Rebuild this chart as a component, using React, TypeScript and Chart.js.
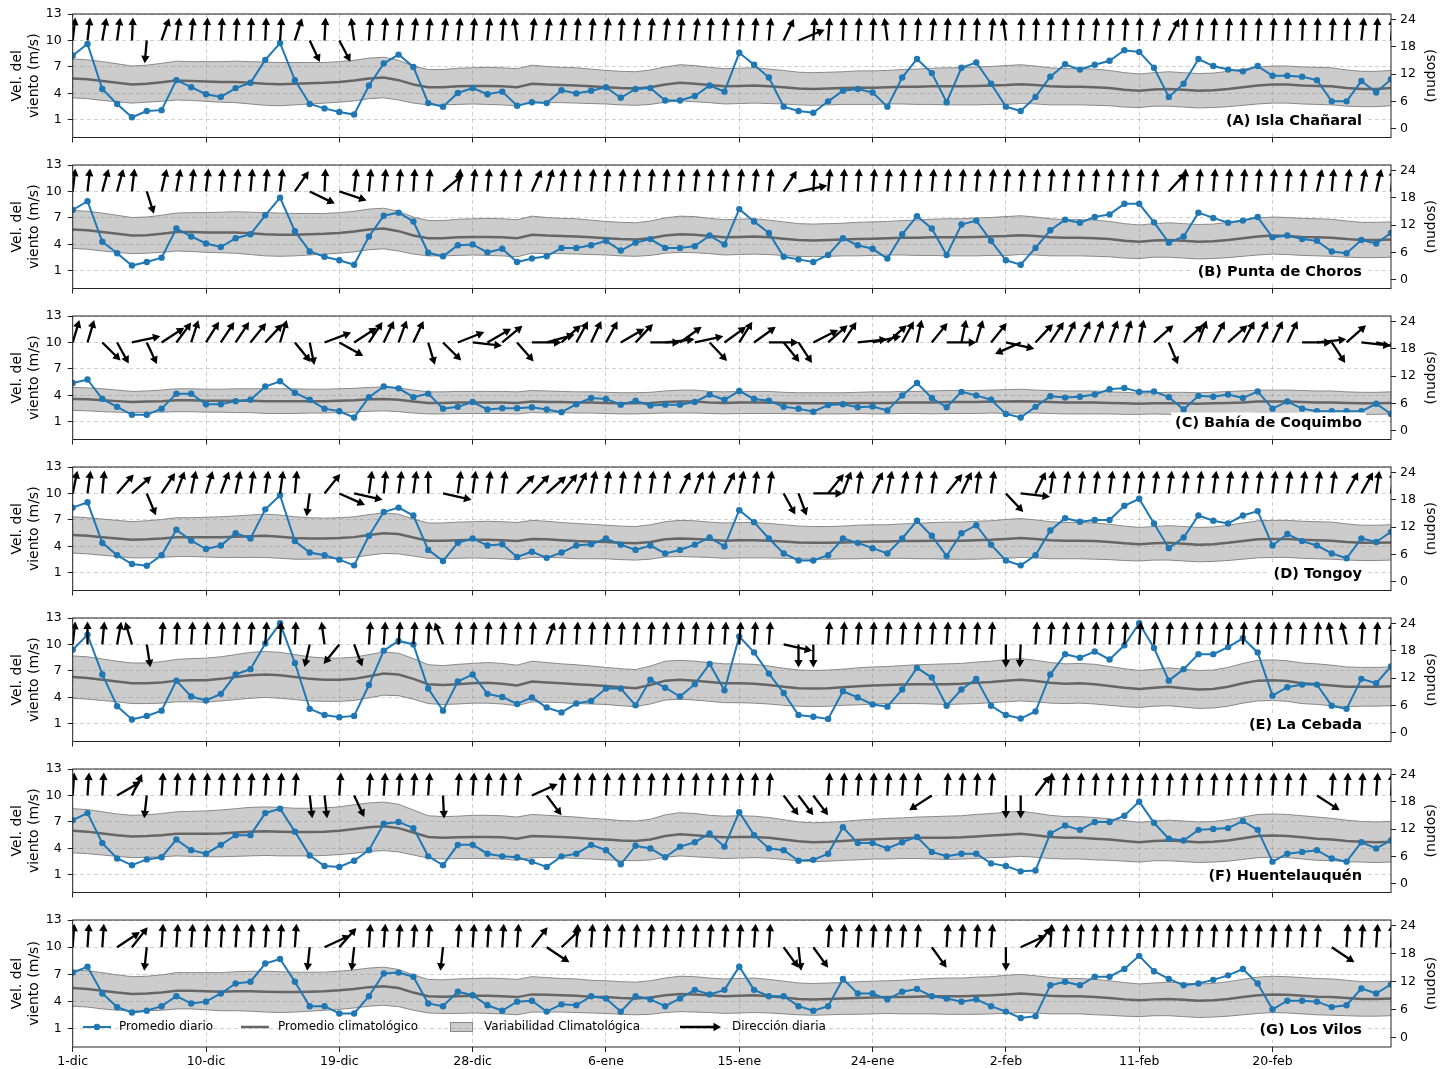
import React, { useEffect, useRef } from "react";
import { Chart, registerables } from "chart.js";

Chart.register(...registerables);

const FONT = "'DejaVu Sans', 'Liberation Sans', Arial, sans-serif";

// ---------------- axis / label data ----------------
const tickDays = [0, 9, 18, 27, 36, 45, 54, 63, 72, 81];
const tickLabels = ["1-dic", "10-dic", "19-dic", "28-dic", "6-ene", "15-ene", "24-ene", "2-feb", "11-feb", "20-feb"];
const leftTicks = [1, 4, 7, 10, 13];
const knotTicks = [0, 6, 12, 18, 24];
const MS_TO_KNOTS = 1.94384;
const Y_MIN = -1;
const Y_MAX = 13;
const X_MAX = 89;
const ARROW_BASE = 10;
const ARROW_LEN_X = 2.0;
const ARROW_LEN_Y = 2.6;

const stationLabels = [
  "(A) Isla Chañaral",
  "(B) Punta de Choros",
  "(C) Bahía de Coquimbo",
  "(D) Tongoy",
  "(E) La Cebada",
  "(F) Huentelauquén",
  "(G) Los Vilos",
];
const legendLabels = ["Promedio diario", "Promedio climatológico", "Variabilidad Climatológica", "Dirección diaria"];
const leftTitle = ["Vel. del", "viento (m/s)"];
const rightTitle = "(nudos)";

// ---------------- series data (1-dic .. 28-feb) ----------------
// (A) Isla Chañaral
const dailyA = [
  8.3, 9.6, 4.5, 2.8, 1.3, 2.0, 2.1, 5.5, 4.7, 3.9,
  3.6, 4.6, 5.2, 7.8, 9.7, 5.5, 2.8, 2.3, 1.9, 1.6,
  4.9, 7.4, 8.4, 7.0, 2.9, 2.5, 4.05, 4.6, 3.9, 4.2,
  2.6, 3.0, 2.9, 4.35, 4.0, 4.3, 4.7, 3.5, 4.5, 4.6,
  3.2, 3.2, 3.7, 4.9, 4.2, 8.6, 7.25, 5.8, 2.5, 2.0,
  1.8, 3.1, 4.3, 4.5, 4.1, 2.5, 5.8, 7.9, 6.3, 3.0,
  6.9, 7.5, 5.1, 2.5, 2.0, 3.6, 5.9, 7.3, 6.7, 7.25,
  7.7, 8.9, 8.7, 6.9, 3.6, 5.1, 7.9, 7.1, 6.7, 6.5,
  7.1, 6.0, 6.0, 5.9, 5.5, 3.1, 3.1, 5.4, 4.1, 5.6,
];
const climA = [
  5.7, 5.6, 5.4, 5.2, 5.0, 5.1, 5.25, 5.45, 5.4, 5.35,
  5.3, 5.3, 5.2, 5.1, 5.05, 5.1, 5.15, 5.2, 5.3, 5.45,
  5.7, 5.8, 5.5, 5.0, 4.7, 4.7, 4.8, 4.85, 4.85, 4.8,
  4.7, 5.1, 5.0, 4.95, 4.9, 4.8, 4.7, 4.6, 4.55, 4.7,
  5.0, 5.2, 5.1, 4.95, 4.8, 4.85, 4.9, 4.8, 4.7, 4.55,
  4.5, 4.55, 4.6, 4.65, 4.65, 4.7, 4.75, 4.75, 4.8, 4.8,
  4.8, 4.85, 4.9, 4.95, 5.05, 4.95, 4.8, 4.75, 4.75, 4.7,
  4.6, 4.4, 4.3, 4.45, 4.5, 4.4, 4.3, 4.35, 4.5, 4.7,
  4.9, 5.0, 5.0, 4.9, 4.85, 4.8, 4.6, 4.5, 4.5, 4.6,
];
const sdA = [
  2.2, 2.2, 2.2, 2.15, 2.1, 2.1, 2.15, 2.2, 2.2, 2.25,
  2.3, 2.35, 2.4, 2.45, 2.45, 2.4, 2.35, 2.3, 2.3, 2.3,
  2.3, 2.3, 2.25, 2.1, 2.0, 2.0, 2.05, 2.05, 2.1, 2.1,
  2.1, 2.1, 2.05, 2.0, 2.0, 1.95, 1.9, 1.9, 1.9, 1.95,
  2.0, 2.05, 2.05, 2.0, 2.0, 2.0, 2.0, 1.95, 1.9, 1.85,
  1.85, 1.85, 1.85, 1.9, 1.9, 1.9, 1.95, 2.0, 2.05, 2.1,
  2.1, 2.15, 2.15, 2.2, 2.2, 2.15, 2.1, 2.05, 2.05, 2.05,
  2.0, 1.95, 1.9, 1.9, 1.95, 1.95, 1.95, 1.95, 2.0, 2.05,
  2.1, 2.1, 2.1, 2.1, 2.1, 2.1, 2.05, 2.0, 2.0, 2.0,
];
const dirA = [
  5, 5, 8, 6, 2, 184, 15, 6, 4, 3,
  3, 3, 2, 2, 3, 14, 160, 2, 158, 354,
  3, 4, 4, 5, 4, 6, 5, 4, 5, 3,
  354, 5, 6, 5, 4, 4, 5, 3, 4, 4,
  5, 4, 6, 3, 4, 4, 4, 4, 20, 62,
  3, 3, 2, 3, 2, 354, 2, 3, 4, 3,
  3, 2, 4, 354, 2, 2, 2, 2, 3, 4,
  3, 3, 2, 8, 20, 3, 4, 3, 3, 2,
  3, 3, 2, 2, 2, 3, 2, 5, 3, 4,
];

// (B) Punta de Choros
const dailyB = [
  7.9, 8.9, 4.3, 3.0, 1.6, 2.0, 2.5, 5.8, 4.9, 4.1,
  3.7, 4.7, 5.15, 7.3, 9.3, 5.5, 3.2, 2.6, 2.2, 1.7,
  4.9, 7.25, 7.6, 6.6, 3.05, 2.65, 3.9, 4.0, 3.1, 3.5,
  2.0, 2.4, 2.65, 3.6, 3.6, 3.9, 4.4, 3.3, 4.2, 4.6,
  3.6, 3.6, 3.8, 5.0, 4.0, 8.0, 6.6, 5.3, 2.6, 2.3,
  2.0, 2.8, 4.7, 3.9, 3.5, 2.4, 5.15, 7.2, 5.8, 2.8,
  6.25, 6.7, 4.4, 2.2, 1.7, 3.6, 5.6, 6.8, 6.45, 7.1,
  7.4, 8.6, 8.6, 6.5, 4.2, 4.9, 7.6, 7.0, 6.45, 6.7,
  7.1, 4.8, 5.0, 4.6, 4.4, 3.2, 3.0, 4.5, 4.1, 5.3,
];
const climB = [
  5.7, 5.6, 5.4, 5.2, 5.0, 5.05, 5.2, 5.4, 5.4, 5.35,
  5.35, 5.35, 5.25, 5.15, 5.1, 5.1, 5.15, 5.2, 5.3, 5.45,
  5.7, 5.8, 5.5, 5.0, 4.7, 4.7, 4.8, 4.85, 4.85, 4.8,
  4.7, 5.1, 5.0, 4.95, 4.9, 4.8, 4.7, 4.6, 4.55, 4.7,
  5.0, 5.15, 5.1, 4.95, 4.8, 4.85, 4.9, 4.8, 4.65, 4.5,
  4.45, 4.5, 4.55, 4.6, 4.65, 4.7, 4.75, 4.75, 4.8, 4.8,
  4.8, 4.85, 4.9, 4.95, 5.05, 4.95, 4.8, 4.75, 4.75, 4.7,
  4.6, 4.4, 4.3, 4.45, 4.5, 4.4, 4.3, 4.35, 4.5, 4.7,
  4.9, 5.0, 4.95, 4.85, 4.8, 4.75, 4.6, 4.5, 4.5, 4.55,
];
const sdB = [
  2.15, 2.15, 2.15, 2.1, 2.05, 2.05, 2.1, 2.15, 2.2, 2.25,
  2.3, 2.35, 2.4, 2.45, 2.45, 2.4, 2.35, 2.3, 2.3, 2.3,
  2.3, 2.3, 2.25, 2.1, 2.0, 2.0, 2.05, 2.05, 2.1, 2.1,
  2.1, 2.1, 2.05, 2.0, 2.0, 1.95, 1.9, 1.9, 1.9, 1.95,
  2.0, 2.05, 2.05, 2.0, 2.0, 2.0, 2.0, 1.95, 1.9, 1.85,
  1.85, 1.85, 1.85, 1.9, 1.9, 1.9, 1.95, 2.0, 2.05, 2.1,
  2.1, 2.15, 2.15, 2.2, 2.2, 2.15, 2.1, 2.05, 2.05, 2.05,
  2.0, 1.95, 1.9, 1.9, 1.95, 1.95, 1.95, 1.95, 2.0, 2.05,
  2.1, 2.1, 2.1, 2.1, 2.1, 2.1, 2.05, 2.0, 2.0, 2.0,
];
const dirB = [
  5, 5, 12, 12, 5, 166, 10, 8, 5, 5,
  4, 5, 4, 4, 5, 28, 122, 2, 113, 5,
  4, 4, 4, 3, 4, 43, 5, 5, 4, 4,
  4, 19, 12, 5, 4, 5, 4, 5, 4, 4,
  4, 4, 5, 4, 4, 5, 5, 5, 26, 75,
  3, 4, 3, 3, 4, 4, 3, 4, 4, 4,
  4, 4, 5, 4, 4, 4, 4, 4, 4, 4,
  4, 4, 4, 4, 35, 4, 4, 4, 4, 4,
  4, 4, 4, 4, 10, 4, 6, 8, 10, 5,
];

// (C) Bahía de Coquimbo
const dailyC = [
  5.4, 5.8, 3.6, 2.7, 1.8, 1.8, 2.5, 4.2, 4.2, 3.0,
  3.0, 3.35, 3.5, 5.0, 5.6, 4.3, 3.5, 2.5, 2.2, 1.5,
  3.8, 5.0, 4.8, 3.8, 4.2, 2.5, 2.7, 3.25, 2.4, 2.55,
  2.55, 2.65, 2.4, 2.1, 3.0, 3.7, 3.6, 2.95, 3.4, 2.85,
  2.95, 2.95, 3.25, 4.1, 3.5, 4.5, 3.6, 3.4, 2.7, 2.5,
  2.15, 2.9, 3.0, 2.65, 2.75, 2.3, 4.0, 5.4, 3.7, 2.65,
  4.4, 4.0, 3.5, 1.9, 1.5, 2.7, 3.9, 3.75, 3.85, 4.1,
  4.7, 4.85, 4.4, 4.45, 3.8, 2.4, 3.95, 3.85, 4.1, 3.7,
  4.45, 2.5, 3.3, 2.5, 2.2, 2.2, 2.2, 2.2, 3.05, 1.9,
];
const climC = [
  3.6, 3.55, 3.45, 3.35, 3.25, 3.3, 3.35, 3.45, 3.45, 3.4,
  3.4, 3.4, 3.4, 3.35, 3.35, 3.35, 3.35, 3.35, 3.4, 3.45,
  3.55, 3.6, 3.5, 3.3, 3.15, 3.15, 3.2, 3.2, 3.2, 3.2,
  3.15, 3.3, 3.25, 3.25, 3.2, 3.2, 3.15, 3.1, 3.1, 3.15,
  3.25, 3.3, 3.3, 3.2, 3.15, 3.2, 3.2, 3.2, 3.15, 3.1,
  3.1, 3.1, 3.1, 3.15, 3.15, 3.15, 3.2, 3.2, 3.2, 3.25,
  3.25, 3.25, 3.3, 3.3, 3.35, 3.3, 3.25, 3.2, 3.2, 3.2,
  3.15, 3.1, 3.05, 3.1, 3.1, 3.1, 3.05, 3.1, 3.15, 3.2,
  3.3, 3.3, 3.3, 3.25, 3.2, 3.2, 3.15, 3.1, 3.1, 3.15,
];
const sdC = [
  1.3, 1.3, 1.3, 1.25, 1.2, 1.2, 1.25, 1.3, 1.3, 1.3,
  1.3, 1.35, 1.35, 1.4, 1.4, 1.4, 1.35, 1.35, 1.35, 1.35,
  1.35, 1.35, 1.35, 1.3, 1.25, 1.25, 1.25, 1.25, 1.25, 1.25,
  1.25, 1.25, 1.25, 1.2, 1.2, 1.2, 1.2, 1.2, 1.2, 1.2,
  1.25, 1.3, 1.3, 1.25, 1.25, 1.25, 1.25, 1.25, 1.2, 1.2,
  1.2, 1.2, 1.2, 1.2, 1.25, 1.25, 1.25, 1.25, 1.3, 1.3,
  1.3, 1.3, 1.3, 1.35, 1.35, 1.3, 1.3, 1.3, 1.3, 1.3,
  1.25, 1.25, 1.2, 1.2, 1.25, 1.25, 1.25, 1.25, 1.3, 1.3,
  1.3, 1.3, 1.3, 1.3, 1.3, 1.3, 1.25, 1.25, 1.25, 1.25,
];
const dirC = [
  13, 13, 142, 157, 74, 160, 50, 30, 14, 26,
  27, 27, 32, 36, 13, 148, 171, 64, 126, 50,
  27, 20, 16, 20, 167, 142, 63, 98, 53, 43,
  146, 90, 70, 41, 23, 20, 23, 53, 36, 90,
  82, 47, 74, 144, 47, 26, 47, 90, 148, 153,
  57, 41, 27, 82, 74, 41, 23, 9, 32, 90,
  9, 13, 32, 106, 240, 36, 27, 20, 20, 16,
  16, 13, 9, 41, 162, 41, 16, 23, 41, 23,
  20, 20, 20, 90, 82, 153, 41, 98, 106, 160,
];

// (D) Tongoy
const dailyD = [
  8.4, 9.0, 4.4, 3.0, 2.0, 1.8, 3.0, 5.9, 4.65, 3.7,
  4.1, 5.5, 4.9, 8.2, 9.8, 4.6, 3.3, 3.0, 2.5, 1.85,
  5.2, 7.9, 8.4, 7.5, 3.6, 2.35, 4.4, 4.9, 4.1, 4.25,
  2.8, 3.4, 2.7, 3.3, 4.1, 4.25, 4.9, 4.2, 3.6, 4.1,
  3.2, 3.6, 4.2, 5.0, 4.0, 8.1, 6.75, 4.9, 3.2, 2.4,
  2.4, 3.0, 4.9, 4.4, 3.8, 3.2, 4.9, 6.9, 5.2, 2.9,
  5.5, 6.4, 4.2, 2.4, 1.85, 3.0, 5.8, 7.2, 6.8, 7.0,
  7.0, 8.6, 9.4, 6.6, 3.8, 5.0, 7.5, 6.9, 6.6, 7.5,
  8.0, 4.1, 5.4, 4.6, 4.1, 3.2, 2.65, 4.9, 4.5, 5.65,
];
const climD = [
  5.3, 5.2, 5.05, 4.9, 4.75, 4.8, 4.9, 5.05, 5.05, 5.05,
  5.05, 5.1, 5.15, 5.2, 5.1, 4.95, 4.9, 4.9, 4.95, 5.05,
  5.3, 5.5, 5.4, 5.0, 4.65, 4.65, 4.7, 4.75, 4.75, 4.7,
  4.6, 4.85, 4.8, 4.7, 4.6, 4.55, 4.5, 4.4, 4.35, 4.5,
  4.8, 4.9, 4.85, 4.75, 4.65, 4.7, 4.7, 4.65, 4.55, 4.45,
  4.4, 4.4, 4.45, 4.5, 4.55, 4.55, 4.6, 4.6, 4.65, 4.65,
  4.65, 4.7, 4.75, 4.85, 4.95, 4.85, 4.7, 4.65, 4.65, 4.6,
  4.5, 4.35, 4.25, 4.35, 4.4, 4.3, 4.2, 4.25, 4.4, 4.6,
  4.8, 4.85, 4.85, 4.75, 4.7, 4.65, 4.5, 4.4, 4.4, 4.45,
];
const sdD = [
  2.05, 2.05, 2.05, 2.05, 2.05, 2.1, 2.15, 2.2, 2.2, 2.25,
  2.3, 2.35, 2.4, 2.45, 2.45, 2.4, 2.35, 2.3, 2.3, 2.3,
  2.3, 2.3, 2.25, 2.1, 2.0, 2.0, 2.05, 2.05, 2.1, 2.1,
  2.1, 2.1, 2.05, 2.0, 2.0, 1.95, 1.9, 1.9, 1.9, 1.95,
  2.0, 2.05, 2.05, 2.0, 2.0, 2.0, 2.0, 1.95, 1.9, 1.85,
  1.85, 1.85, 1.85, 1.9, 1.9, 1.9, 1.95, 2.0, 2.05, 2.1,
  2.1, 2.15, 2.15, 2.2, 2.2, 2.15, 2.1, 2.05, 2.05, 2.05,
  2.0, 1.95, 1.9, 1.9, 1.95, 1.95, 1.95, 1.95, 2.0, 2.05,
  2.1, 2.1, 2.1, 2.1, 2.1, 2.1, 2.05, 2.0, 2.0, 2.0,
];
const dirD = [
  9, 6, 4, 34, 41, 162, 27, 16, 9, 13,
  16, 9, 6, 6, 6, 4, 186, 32, 120, 106,
  6, 4, 6, 6, 0, 106, 6, 6, 6, 6,
  36, 36, 41, 32, 20, 9, 6, 6, 6, 6,
  6, 20, 16, 6, 20, 9, 6, 6, 157, 164,
  90, 32, 16, 6, 20, 9, 9, 6, 6, 32,
  20, 6, 6, 144, 98, 20, 6, 6, 6, 6,
  6, 6, 6, 6, 6, 6, 6, 6, 6, 6,
  6, 6, 6, 6, 6, 6, 23, 23, 6, 6,
];

// (E) La Cebada
const dailyE = [
  9.4, 11.1, 6.6, 3.0, 1.5, 1.9, 2.5, 5.9, 4.1, 3.65,
  4.4, 6.6, 7.2, 10.1, 12.4, 7.9, 2.7, 2.0, 1.75, 1.9,
  5.4, 9.3, 10.4, 10.0, 5.0, 2.5, 5.8, 6.6, 4.4, 4.05,
  3.25, 4.0, 2.85, 2.3, 3.3, 3.6, 5.0, 5.0, 3.1, 6.0,
  5.1, 4.1, 5.5, 7.8, 4.8, 10.9, 9.1, 6.7, 4.5, 2.0,
  1.8, 1.55, 4.7, 4.0, 3.2, 2.95, 4.9, 7.35, 6.25, 3.05,
  4.9, 6.1, 3.05, 2.0, 1.6, 2.4, 6.6, 8.9, 8.5, 9.2,
  8.3, 9.9, 12.4, 9.6, 5.9, 7.2, 8.9, 8.9, 9.7, 10.7,
  9.1, 4.2, 5.15, 5.45, 5.45, 3.05, 2.7, 6.1, 5.6, 7.5,
];
const climE = [
  6.3, 6.2, 6.0, 5.8, 5.6, 5.6, 5.7, 5.9, 5.95, 5.95,
  6.1, 6.3, 6.5, 6.6, 6.5, 6.3, 6.1, 6.0, 6.0, 6.1,
  6.4, 6.7, 6.6, 6.1, 5.5, 5.4, 5.5, 5.6, 5.65, 5.55,
  5.35, 5.8, 5.7, 5.6, 5.5, 5.4, 5.3, 5.15, 5.05, 5.4,
  5.9, 6.0, 5.9, 5.75, 5.6, 5.6, 5.55, 5.4, 5.2, 5.05,
  5.0, 5.05, 5.15, 5.25, 5.35, 5.4, 5.45, 5.5, 5.5, 5.5,
  5.55, 5.65, 5.75, 5.9, 6.0, 5.85, 5.65, 5.55, 5.6, 5.5,
  5.3, 5.1, 4.95, 5.1, 5.2, 5.05, 4.9, 4.95, 5.2, 5.6,
  5.9, 5.95, 5.85, 5.6, 5.5, 5.35, 5.2, 5.2, 5.2, 5.25,
];
const sdE = [
  2.4, 2.4, 2.35, 2.3, 2.3, 2.3, 2.35, 2.4, 2.45, 2.5,
  2.5, 2.55, 2.6, 2.6, 2.6, 2.55, 2.5, 2.45, 2.45, 2.45,
  2.45, 2.45, 2.4, 2.3, 2.2, 2.2, 2.25, 2.25, 2.3, 2.3,
  2.3, 2.3, 2.25, 2.2, 2.2, 2.15, 2.1, 2.1, 2.1, 2.15,
  2.2, 2.2, 2.2, 2.2, 2.2, 2.2, 2.2, 2.15, 2.1, 2.05,
  2.05, 2.05, 2.05, 2.1, 2.1, 2.1, 2.15, 2.2, 2.25, 2.3,
  2.3, 2.35, 2.35, 2.4, 2.4, 2.35, 2.3, 2.25, 2.25, 2.25,
  2.2, 2.15, 2.1, 2.1, 2.15, 2.15, 2.15, 2.15, 2.2, 2.25,
  2.3, 2.3, 2.3, 2.3, 2.3, 2.3, 2.25, 2.2, 2.2, 2.2,
];
const dirE = [
  5, 0, 4, 8, 347, 173, 3, 2, 3, 3,
  3, 3, 3, 3, 2, 2, 190, 354, 212, 164,
  3, 3, 3, 3, 2, 344, 3, 3, 3, 3,
  3, 3, 15, 3, 3, 3, 3, 3, 3, 3,
  3, 3, 3, 3, 3, 3, 3, 3, 106, 180,
  180, 3, 3, 3, 3, 3, 3, 3, 3, 3,
  3, 3, 3, 180, 182, 3, 3, 3, 3, 3,
  3, 3, 3, 3, 3, 3, 3, 3, 3, 3,
  3, 3, 3, 3, 3, 354, 350, 3, 3, 3,
];

// (F) Huentelauquén
const dailyF = [
  7.2, 8.0, 4.6, 2.85, 2.1, 2.75, 3.0, 5.0, 3.8, 3.4,
  4.4, 5.5, 5.5, 8.0, 8.5, 5.9, 3.2, 2.0, 1.9, 2.6,
  3.8, 6.8, 7.0, 6.3, 3.1, 2.1, 4.4, 4.4, 3.4, 3.1,
  3.0, 2.5, 1.9, 3.1, 3.4, 4.4, 3.8, 2.2, 4.3, 4.0,
  3.0, 4.2, 4.7, 5.7, 4.2, 8.1, 5.5, 4.0, 3.8, 2.6,
  2.7, 3.4, 6.4, 4.6, 4.6, 4.0, 4.7, 5.3, 3.6, 3.1,
  3.4, 3.4, 2.3, 2.0, 1.4, 1.5, 5.7, 6.6, 6.1, 7.0,
  7.0, 7.7, 9.3, 6.9, 5.1, 4.9, 6.1, 6.2, 6.3, 7.1,
  6.1, 2.5, 3.4, 3.6, 3.8, 2.85, 2.5, 4.7, 4.0, 4.9,
];
const climF = [
  6.0, 5.9, 5.7, 5.5, 5.35, 5.4, 5.5, 5.65, 5.65, 5.65,
  5.7, 5.8, 5.9, 5.95, 5.9, 5.85, 5.85, 5.9, 6.0, 6.2,
  6.4, 6.5, 6.3, 5.8, 5.3, 5.2, 5.25, 5.3, 5.3, 5.25,
  5.1, 5.4, 5.35, 5.3, 5.2, 5.1, 5.0, 4.9, 4.85, 5.0,
  5.4, 5.6, 5.5, 5.35, 5.25, 5.3, 5.3, 5.2, 5.0, 4.8,
  4.7, 4.75, 4.85, 4.95, 5.05, 5.1, 5.15, 5.2, 5.2, 5.2,
  5.25, 5.35, 5.45, 5.55, 5.65, 5.5, 5.3, 5.2, 5.2, 5.1,
  5.0, 4.85, 4.7, 4.85, 4.9, 4.8, 4.7, 4.75, 4.9, 5.15,
  5.4, 5.45, 5.4, 5.25, 5.1, 5.0, 4.85, 4.75, 4.7, 4.75,
];
const sdF = [
  2.5, 2.5, 2.45, 2.4, 2.4, 2.4, 2.45, 2.5, 2.55, 2.6,
  2.65, 2.7, 2.75, 2.75, 2.75, 2.7, 2.7, 2.7, 2.7, 2.75,
  2.75, 2.75, 2.7, 2.55, 2.4, 2.4, 2.4, 2.45, 2.45, 2.45,
  2.45, 2.45, 2.4, 2.35, 2.35, 2.3, 2.3, 2.25, 2.25, 2.3,
  2.4, 2.45, 2.45, 2.4, 2.4, 2.4, 2.35, 2.3, 2.25, 2.2,
  2.2, 2.2, 2.2, 2.25, 2.25, 2.3, 2.3, 2.35, 2.4, 2.45,
  2.45, 2.5, 2.5, 2.55, 2.55, 2.5, 2.45, 2.4, 2.4, 2.4,
  2.35, 2.3, 2.25, 2.25, 2.3, 2.3, 2.3, 2.3, 2.35, 2.4,
  2.45, 2.45, 2.45, 2.45, 2.45, 2.4, 2.35, 2.3, 2.3, 2.3,
];
const dirF = [
  3, 3, 3, 53, 20, 185, 3, 3, 3, 3,
  3, 3, 3, 3, 3, 3, 175, 175, 3, 160,
  3, 3, 3, 3, 3, 178, 3, 3, 3, 3,
  3, 60, 150, 3, 3, 3, 3, 3, 3, 3,
  3, 3, 3, 3, 3, 3, 3, 3, 150, 150,
  150, 3, 3, 3, 3, 3, 3, 3, 230, 3,
  3, 3, 3, 180, 180, 30, 3, 3, 3, 3,
  3, 3, 3, 3, 3, 3, 3, 3, 3, 3,
  3, 3, 3, 3, 130, 3, 3, 3, 3, 3,
];

// (G) Los Vilos
const dailyG = [
  7.2, 7.85, 4.9, 3.4, 2.8, 3.0, 3.5, 4.6, 3.8, 4.0,
  4.9, 6.0, 6.2, 8.2, 8.7, 6.2, 3.5, 3.5, 2.7, 2.7,
  4.6, 7.1, 7.2, 6.75, 3.8, 3.5, 5.1, 4.7, 3.6, 3.0,
  4.0, 4.1, 2.9, 3.7, 3.6, 4.6, 4.35, 2.9, 4.6, 4.25,
  3.5, 4.35, 5.3, 4.8, 5.3, 7.85, 5.3, 4.6, 4.6, 3.5,
  3.0, 3.5, 6.5, 4.9, 4.9, 4.25, 5.1, 5.4, 4.6, 4.35,
  4.0, 4.25, 3.5, 2.9, 2.2, 2.4, 5.8, 6.2, 5.8, 6.75,
  6.75, 7.6, 9.05, 7.35, 6.5, 5.8, 6.0, 6.4, 6.9, 7.6,
  6.0, 3.15, 4.1, 4.1, 4.0, 3.4, 3.6, 5.45, 4.9, 5.9,
];
const climG = [
  5.5, 5.4, 5.2, 5.0, 4.85, 4.9, 5.0, 5.2, 5.2, 5.15,
  5.1, 5.15, 5.15, 5.1, 5.05, 5.05, 5.1, 5.15, 5.25, 5.4,
  5.6, 5.7, 5.5, 5.0, 4.6, 4.55, 4.6, 4.65, 4.65, 4.6,
  4.5, 4.8, 4.75, 4.7, 4.65, 4.55, 4.5, 4.4, 4.35, 4.45,
  4.7, 4.85, 4.8, 4.7, 4.6, 4.65, 4.7, 4.6, 4.45, 4.3,
  4.25, 4.3, 4.35, 4.4, 4.45, 4.5, 4.5, 4.55, 4.6, 4.6,
  4.6, 4.65, 4.7, 4.8, 4.9, 4.8, 4.65, 4.6, 4.6, 4.5,
  4.4, 4.25, 4.15, 4.25, 4.3, 4.2, 4.1, 4.15, 4.3, 4.5,
  4.7, 4.8, 4.75, 4.65, 4.55, 4.5, 4.4, 4.3, 4.3, 4.35,
];
const sdG = [
  2.0, 2.0, 2.0, 1.95, 1.9, 1.9, 1.95, 2.0, 2.0, 2.05,
  2.1, 2.15, 2.2, 2.25, 2.25, 2.2, 2.15, 2.1, 2.1, 2.1,
  2.1, 2.1, 2.05, 1.95, 1.85, 1.85, 1.9, 1.9, 1.95, 1.95,
  1.95, 1.95, 1.9, 1.85, 1.85, 1.8, 1.8, 1.8, 1.8, 1.85,
  1.9, 1.95, 1.95, 1.9, 1.9, 1.9, 1.9, 1.85, 1.8, 1.75,
  1.75, 1.75, 1.75, 1.8, 1.8, 1.8, 1.85, 1.9, 1.95, 2.0,
  2.0, 2.05, 2.05, 2.1, 2.1, 2.05, 2.0, 1.95, 1.95, 1.95,
  1.9, 1.85, 1.8, 1.8, 1.85, 1.85, 1.85, 1.85, 1.9, 1.95,
  2.0, 2.0, 2.0, 2.0, 2.0, 2.0, 1.95, 1.9, 1.9, 1.9,
];
const dirG = [
  3, 3, 3, 50, 32, 185, 3, 3, 3, 3,
  3, 3, 3, 3, 3, 3, 185, 60, 35, 185,
  3, 3, 3, 3, 3, 185, 3, 3, 3, 3,
  3, 32, 130, 40, 3, 3, 3, 3, 3, 3,
  3, 3, 3, 3, 3, 3, 3, 3, 150, 175,
  150, 3, 3, 3, 3, 3, 3, 3, 150, 3,
  3, 3, 3, 180, 60, 32, 3, 3, 3, 3,
  3, 3, 3, 3, 3, 3, 3, 3, 3, 3,
  3, 3, 3, 3, 3, 130, 3, 3, 3, 3,
];

type PanelData = { label: string; daily: number[]; clim: number[]; sd: number[]; dir: number[] };

const PANELS: PanelData[] = [
  { label: stationLabels[0], daily: dailyA, clim: climA, sd: sdA, dir: dirA },
  { label: stationLabels[1], daily: dailyB, clim: climB, sd: sdB, dir: dirB },
  { label: stationLabels[2], daily: dailyC, clim: climC, sd: sdC, dir: dirC },
  { label: stationLabels[3], daily: dailyD, clim: climD, sd: sdD, dir: dirD },
  { label: stationLabels[4], daily: dailyE, clim: climE, sd: sdE, dir: dirE },
  { label: stationLabels[5], daily: dailyF, clim: climF, sd: sdF, dir: dirF },
  { label: stationLabels[6], daily: dailyG, clim: climG, sd: sdG, dir: dirG },
];

// ---------------- styling / layout ----------------
const W = 1449;
const PANEL_STEP = 151;
const PLOT_TOP = 14;
const PLOT_H = 127;
const LEFT_AXIS_W = 72.7;
const RIGHT_AXIS_W = 58;
const LAST_EXTRA = 12;
const BLUE = "#1f77b4";
const CLIM_COLOR = "#666666";
const BAND_FILL = "rgba(128,128,128,0.4)";
const BAND_EDGE = "#8a8a8a";
const GRID = "rgba(150,150,150,0.55)";

function drawArrow(ctx: CanvasRenderingContext2D, x0: number, y0: number, x1: number, y1: number) {
  const dx = x1 - x0;
  const dy = y1 - y0;
  const len = Math.hypot(dx, dy);
  if (len < 0.5) return;
  const ux = dx / len;
  const uy = dy / len;
  const px = -uy;
  const py = ux;
  const sw = 1.15;
  const hw = 4.2;
  const hl = Math.min(7.5, len * 0.6);
  const bx = x1 - ux * hl;
  const by = y1 - uy * hl;
  ctx.beginPath();
  ctx.moveTo(x0 + px * sw, y0 + py * sw);
  ctx.lineTo(bx + px * sw, by + py * sw);
  ctx.lineTo(bx + px * hw, by + py * hw);
  ctx.lineTo(x1, y1);
  ctx.lineTo(bx - px * hw, by - py * hw);
  ctx.lineTo(bx - px * sw, by - py * sw);
  ctx.lineTo(x0 - px * sw, y0 - py * sw);
  ctx.closePath();
  ctx.fill();
}

function makeOverlay(p: PanelData, isLast: boolean) {
  return {
    id: "overlay",
    afterDatasetsDraw(chart: any) {
      const { ctx, chartArea: ca, scales } = chart;
      const xs = scales.x;
      const ys = scales.y;

      // daily direction arrows
      ctx.save();
      ctx.beginPath();
      ctx.rect(ca.left, ca.top, ca.right - ca.left, ca.bottom - ca.top);
      ctx.clip();
      ctx.fillStyle = "#000";
      p.dir.forEach((h, i) => {
        const r = (h * Math.PI) / 180;
        const x0 = xs.getPixelForValue(i);
        const y0 = ys.getPixelForValue(ARROW_BASE);
        const x1 = xs.getPixelForValue(i + ARROW_LEN_X * Math.sin(r));
        const y1 = ys.getPixelForValue(ARROW_BASE + ARROW_LEN_Y * Math.cos(r));
        drawArrow(ctx, x0, y0, x1, y1);
      });
      ctx.restore();

      // frame
      ctx.save();
      ctx.strokeStyle = "#222";
      ctx.lineWidth = 1;
      ctx.strokeRect(ca.left, ca.top, ca.right - ca.left, ca.bottom - ca.top);
      ctx.restore();

      // station label
      ctx.save();
      ctx.font = `bold 14.5px ${FONT}`;
      const tw = ctx.measureText(p.label).width;
      const rx = 1362;
      const cy = ca.bottom - 17;
      ctx.fillStyle = "#fff";
      ctx.fillRect(rx - tw - 4, cy - 10, tw + 8, 20);
      ctx.fillStyle = "#000";
      ctx.textAlign = "right";
      ctx.textBaseline = "middle";
      ctx.fillText(p.label, rx, cy + 0.5);
      ctx.restore();

      // right axis title
      ctx.save();
      ctx.font = `14px ${FONT}`;
      ctx.fillStyle = "#000";
      ctx.translate(1431, (ca.top + ca.bottom) / 2);
      ctx.rotate(-Math.PI / 2);
      ctx.textAlign = "center";
      ctx.textBaseline = "middle";
      ctx.fillText(rightTitle, 0, 0);
      ctx.restore();

      if (isLast) {
        const ly = ca.bottom - 20;
        ctx.save();
        ctx.font = `12px ${FONT}`;
        ctx.textAlign = "left";
        ctx.textBaseline = "middle";
        ctx.strokeStyle = BLUE;
        ctx.lineWidth = 2;
        ctx.beginPath();
        ctx.moveTo(83, ly);
        ctx.lineTo(111, ly);
        ctx.stroke();
        ctx.fillStyle = BLUE;
        ctx.beginPath();
        ctx.arc(97, ly, 3.2, 0, Math.PI * 2);
        ctx.fill();
        ctx.fillStyle = "#000";
        ctx.fillText(legendLabels[0], 119, ly);
        ctx.strokeStyle = CLIM_COLOR;
        ctx.lineWidth = 2.5;
        ctx.beginPath();
        ctx.moveTo(241, ly);
        ctx.lineTo(269, ly);
        ctx.stroke();
        ctx.fillText(legendLabels[1], 278, ly);
        ctx.fillStyle = BAND_FILL;
        ctx.fillRect(450, ly - 5, 23, 10);
        ctx.strokeStyle = BAND_EDGE;
        ctx.lineWidth = 1;
        ctx.strokeRect(450.5, ly - 4.5, 22, 9);
        ctx.fillStyle = "#000";
        ctx.fillText(legendLabels[2], 484, ly);
        drawArrow(ctx, 680, ly, 721, ly);
        ctx.fillText(legendLabels[3], 732, ly);
        ctx.restore();
      }
    },
  };
}

function Panel({ p, index, isLast }: { p: PanelData; index: number; isLast: boolean }) {
  const ref = useRef<HTMLCanvasElement | null>(null);
  const h = isLast ? PANEL_STEP + LAST_EXTRA : PANEL_STEP;

  useEffect(() => {
    if (!ref.current) return;
    const pts = (arr: number[]) => arr.map((v, i) => ({ x: i, y: v }));
    const upper = p.clim.map((m, i) => m + p.sd[i]);
    const lower = p.clim.map((m, i) => m - p.sd[i]);
    const tickFont = { size: 12.5, family: FONT };

    const chart = new Chart(ref.current, {
      type: "line",
      data: {
        datasets: [
          {
            label: legendLabels[0],
            data: pts(p.daily),
            borderColor: BLUE,
            backgroundColor: BLUE,
            borderWidth: 2,
            pointRadius: 3.2,
            pointBorderWidth: 0,
            pointBackgroundColor: BLUE,
            tension: 0,
            fill: false,
            order: 0,
          },
          {
            label: legendLabels[1],
            data: pts(p.clim),
            borderColor: CLIM_COLOR,
            borderWidth: 2.5,
            pointRadius: 0,
            tension: 0,
            fill: false,
            order: 1,
          },
          {
            label: legendLabels[2],
            data: pts(upper),
            borderColor: BAND_EDGE,
            borderWidth: 1,
            pointRadius: 0,
            backgroundColor: BAND_FILL,
            fill: "+1",
            tension: 0,
            order: 2,
          },
          {
            label: "lower",
            data: pts(lower),
            borderColor: BAND_EDGE,
            borderWidth: 1,
            pointRadius: 0,
            fill: false,
            tension: 0,
            order: 3,
          },
        ],
      },
      options: {
        animation: false,
        responsive: false,
        maintainAspectRatio: false,
        devicePixelRatio: 1,
        events: [],
        layout: { padding: { top: PLOT_TOP, left: 0, right: 0, bottom: 0 } },
        plugins: { legend: { display: false }, tooltip: { enabled: false } },
        scales: {
          x: {
            type: "linear",
            position: "bottom",
            min: 0,
            max: X_MAX,
            afterBuildTicks: (s: any) => {
              s.ticks = tickDays.map((v) => ({ value: v }));
            },
            afterFit: (s: any) => {
              s.height = h - PLOT_TOP - PLOT_H;
            },
            ticks: {
              display: isLast,
              autoSkip: false,
              maxRotation: 0,
              minRotation: 0,
              padding: 2,
              color: "#000",
              font: tickFont,
              callback: (v: any) => {
                const k = tickDays.indexOf(Number(v));
                return k >= 0 ? tickLabels[k] : "";
              },
            },
            grid: {
              color: GRID,
              lineWidth: 0.8,
              drawTicks: true,
              tickLength: 5,
              tickColor: "#222",
              tickWidth: 1,
              tickBorderDash: [],
            },
            border: { display: false, dash: [4, 3] },
          },
          y: {
            type: "linear",
            position: "left",
            min: Y_MIN,
            max: Y_MAX,
            afterBuildTicks: (s: any) => {
              s.ticks = leftTicks.map((v) => ({ value: v }));
            },
            afterFit: (s: any) => {
              s.width = LEFT_AXIS_W;
            },
            ticks: {
              color: "#000",
              font: tickFont,
              padding: 6,
              callback: (v: any) => String(v),
            },
            grid: {
              color: GRID,
              lineWidth: 0.8,
              drawTicks: true,
              tickLength: 5,
              tickColor: "#222",
              tickWidth: 1,
              tickBorderDash: [],
            },
            border: { display: false, dash: [4, 3] },
            title: {
              display: true,
              text: leftTitle,
              color: "#000",
              font: { size: 14, family: FONT },
              padding: { top: 9, bottom: 0 },
            },
          },
          y2: {
            type: "linear",
            position: "right",
            min: Y_MIN * MS_TO_KNOTS,
            max: Y_MAX * MS_TO_KNOTS,
            afterBuildTicks: (s: any) => {
              s.ticks = knotTicks.map((v) => ({ value: v }));
            },
            afterFit: (s: any) => {
              s.width = RIGHT_AXIS_W;
            },
            ticks: {
              color: "#000",
              font: tickFont,
              padding: 4,
              callback: (v: any) => String(v),
            },
            grid: {
              drawOnChartArea: false,
              drawTicks: true,
              tickLength: 5,
              tickColor: "#222",
              tickWidth: 1,
            },
            border: { display: false },
          },
        },
      } as any,
      plugins: [makeOverlay(p, isLast)],
    });
    return () => chart.destroy();
  }, []);

  return (
    <canvas
      ref={ref}
      width={W}
      height={h}
      style={{ position: "absolute", left: 0, top: index * PANEL_STEP, width: W, height: h, display: "block" }}
    />
  );
}

export default function App() {
  return (
    <div style={{ position: "absolute", left: 0, top: 0, width: W, height: 1069, background: "#fff", overflow: "hidden" }}>
      {PANELS.map((p, i) => (
        <Panel key={i} p={p} index={i} isLast={i === PANELS.length - 1} />
      ))}
    </div>
  );
}
